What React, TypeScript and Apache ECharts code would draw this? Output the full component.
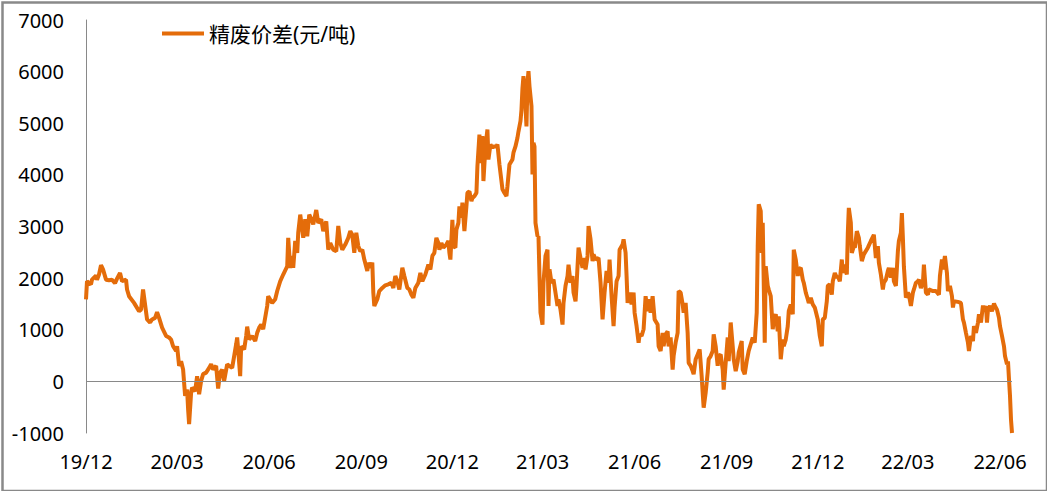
import React, { useEffect, useRef } from "react";
import * as echarts from "echarts";

// Day offsets counted from 2019-12-01, and the spread values (元/吨)
const seriesName = "精废价差(元/吨)";
const startDate = "2019-12-01";
const xTickLabels = ["19/12", "20/03", "20/06", "20/09", "20/12", "21/03", "21/06", "21/09", "21/12", "22/03", "22/06"];
const yTicks = { min: -1000, max: 7000, step: 1000 };
const lastDay = 925;

const dayOffsets = [
  0, 1, 5, 6, 10, 11, 13, 15, 17, 20, 23, 26, 29, 31, 34, 36, 40, 41, 43, 48, 53, 55, 57, 59, 61, 64, 66, 69, 71, 73, 76, 80, 83, 85, 87, 90, 91, 93, 95, 97, 99, 101, 102, 103, 105, 106, 109, 111, 113, 115, 117, 120, 123, 125, 127, 130, 132, 134, 136, 138, 141, 143, 146, 148, 150, 151, 152, 154, 155, 158, 160, 161, 163, 166, 169, 171, 173, 175, 177,
  181, 182, 186, 189, 191, 194, 197, 201, 202, 204, 206, 207, 209, 211, 212, 214, 216, 217, 219, 221, 223, 226, 227, 230, 232, 235, 237, 240, 242, 244, 247, 250, 252, 254, 256, 259, 262, 264, 266, 268, 270, 272, 274, 276, 278, 281, 282, 284, 286, 287, 288, 291, 293, 296, 299, 302, 305, 307, 309, 311, 313, 316, 318, 321, 323, 325, 327, 329, 332, 334, 336, 339, 342, 344, 346, 348, 350, 352, 353, 355, 357, 360, 362, 363, 364,
  366, 367, 369, 370, 372, 373, 375, 376, 378, 380, 381, 383, 385, 386, 388, 390, 391, 393, 394, 396, 397, 399, 401, 402, 404, 406, 407, 410, 411, 413, 415, 416, 418, 420, 421, 423, 426, 427, 429, 431, 432, 434, 435, 436, 437, 438, 440, 441, 442, 443, 445, 446, 447, 448, 449, 451, 452, 453, 454, 456, 457, 459, 461, 462, 463, 465, 467,
  471, 472, 474, 476, 477, 479, 481, 482, 484, 486, 487, 489, 490, 491, 492, 494, 496, 497, 499, 501, 502, 504, 506, 507, 509, 512, 514, 516, 518, 520, 522, 523, 525, 527, 528, 530, 532, 533, 536, 537, 539, 540, 541, 543, 545, 547, 548, 550, 552, 553, 555, 557, 559, 561, 562, 564, 566, 568, 571, 572, 574, 576, 577, 579, 581, 582, 584, 586, 587, 589, 591, 592, 594, 596, 597, 599, 601, 602, 604, 606, 607, 609, 611, 613, 615, 616, 617, 619, 621, 622, 624, 626, 627, 629, 631, 632, 634, 636, 637, 639, 641, 642, 644, 646, 647, 649, 651, 652, 655, 656, 658, 660, 662, 664, 666, 668, 670, 671, 672, 674, 675, 676, 678, 679, 681, 682, 684, 686, 687, 689, 691, 692,
  694, 696, 697, 699, 701, 702, 704, 706, 707, 709, 711, 712, 714, 716, 717, 719, 721, 722, 724, 726, 728, 731, 732, 733, 735, 736, 738, 740, 741, 743, 745, 746, 748, 750, 751, 753, 755, 756, 758, 760, 761, 762, 764, 765, 767, 768, 770, 772, 773, 775, 777, 781, 784, 787, 789, 791, 792, 794, 796, 797, 799, 801, 802, 804, 806, 807, 809, 811, 812, 814, 815, 816, 817, 819, 821, 822, 824, 826, 827, 829, 831, 832, 834, 836, 837, 839, 841, 842, 846, 849, 852, 853, 855, 856, 858, 860, 861, 863, 865, 866, 867, 871, 874, 876, 877, 879, 881, 882, 884, 886, 887, 889, 891, 892, 894, 896, 897, 899, 900, 901, 903, 905, 907, 908, 910, 912, 913, 915, 917, 918, 920, 921, 922, 923, 924, 925,
];

const spreadValues = [
  1590, 1940, 1880, 1970, 2050, 1970, 2070, 2250, 2170, 1970, 1960, 1970, 1900, 1990, 2100, 1940, 1970, 1780, 1650, 1520, 1360, 1390, 1780, 1490, 1200, 1140, 1200, 1230, 1340, 1230, 1040, 880, 850, 810, 680, 590, 680, 300, 390, 230, -280, -160, -540, -830, -220, -120, -190, 100, -250, 10, 140, 170, 260, 330, 230, 300, -140, 170, 230, 10, 330, 300, 260, 490, 720, 850, 620, 100, 680, 620, 880, 1060, 810, 880, 780, 940, 1040, 1100, 1010,
  1460, 1650, 1520, 1590, 1750, 1940, 2070, 2230, 2780, 2200, 2430, 2200, 2720, 2490, 2880, 3230, 2940, 2780, 3140, 2810, 3230, 3100, 3040, 3320, 3070, 3140, 2910, 3100, 2550, 2680, 2550, 2520, 3010, 2680, 2550, 2650, 2780, 2910, 2840, 2490, 2880, 2620, 2520, 2550, 2360, 2140, 2300, 2200, 2300, 1720, 1460, 1590, 1750, 1810, 1860, 1880, 1910, 1810, 2040, 1940, 1780, 2200, 2040, 1810, 1780, 1680, 1620, 1810, 1910, 2100, 1940, 2070, 2260, 2170, 2430, 2490, 2780, 2680, 2550, 2680, 2590, 2650, 2720, 2490, 2360,
  3130, 2620, 2590, 2940, 3070, 3390, 3170, 3460, 2910, 3390, 3650, 3680, 3490, 3550, 3590, 3650, 4170, 4780, 4230, 4750, 3880, 4550, 4880, 4300, 4590, 4520, 4550, 4550, 4590, 4200, 3880, 3720, 3650, 3590, 3780, 4200, 4300, 4430, 4550, 4720, 4840, 5040, 5260, 5680, 5910, 5720, 4940, 5780, 6010, 5720, 5330, 4010, 4620, 4550, 3070, 2810, 2810, 2040, 1330, 1100, 1910, 2430, 2550, 1460, 2170, 1910, 1970,
  1460, 1590, 1390, 1100, 1520, 1850, 2040, 2260, 1910, 2040, 1720, 1550, 1850, 2230, 2590, 2390, 2200, 2390, 2170, 2430, 3010, 2750, 2330, 2460, 2360, 2390, 1910, 1200, 1720, 2140, 1910, 2360, 1650, 1070, 1430, 1940, 2040, 2550, 2650, 2750, 2490, 2040, 1520, 1720, 1490, 1720, 1330, 1070, 750, 910, 880, 1010, 1650, 1360, 1590, 1330, 1650, 1200, 1100, 680, 590, 940, 680, 910, 970, 680, 850, 230, 490, 750, 940, 1750, 1720, 1490, 1330, 1520, 940, 360, 300, 200, 140, 430, 520, 620, 100, -220, -510, -220, 170, 430, 490, 590, 910, 680, 300, 490, 520, 230, -160, 360, 850, 390, 1140, 680, 430, 200, 390, 560, 780, 230, 140, 390, 590, 720, 850, 750, 1330, 2620, 3430, 3300, 2490, 3070, 750, 2230, 1850, 1780, 1650, 1010, 1200, 1300, 970, 1260,
  430, 810, 680, 810, 1070, 1360, 1490, 1300, 2550, 2360, 2040, 2170, 2200, 1970, 1910, 1720, 1590, 1520, 1620, 1490, 1430, 1200, 1040, 880, 680, 1200, 1230, 1550, 1850, 1880, 1680, 1940, 2100, 2010, 2040, 1940, 2360, 2100, 2260, 2070, 2880, 3360, 3070, 2490, 2620, 2590, 2910, 2780, 2620, 2330, 2460, 2590, 2720, 2840, 2390, 2620, 2300, 2070, 1780, 1910, 1970, 2140, 2200, 2010, 2200, 1940, 1850, 2520, 2720, 2880, 3260, 2780, 2230, 1620, 1720, 1680, 1460, 1720, 1780, 1910, 1940, 1970, 1810, 1910, 2260, 1720, 1680, 1780, 1750, 1750, 1680, 2040, 2360, 2170, 2430, 2100, 1750, 1850, 1650, 1430, 1550, 1540, 1520, 1200, 1140, 940, 750, 590, 880, 780, 1070, 940, 1140, 1300, 1140, 1470, 1360, 1460, 1140, 1390, 1460, 1360, 1510, 1460, 1390, 1230, 1070, 880, 680, 490, 330, 390, 40, -280, -740, -1000,
];

const FONT = "'Noto Sans', 'Noto Sans CJK SC', sans-serif";
const DAY_MS = 24 * 3600 * 1000;

function startTs(): number {
  const [y, m, d] = startDate.split("-").map(Number);
  return Date.UTC(y, m - 1, d);
}

function labelToDay(label: string): number {
  const [yy, mm] = label.split("/").map(Number);
  return Math.round((Date.UTC(2000 + yy, mm - 1, 1) - startTs()) / DAY_MS);
}

export default function App() {
  const ref = useRef<HTMLDivElement>(null);

  useEffect(() => {
    if (!ref.current) return;
    const chart = echarts.init(ref.current, null, { renderer: "svg" });
    const tickDays = xTickLabels.map(labelToDay);
    const data = dayOffsets.map((d, i) => [d, spreadValues[i]]);

    chart.setOption({
      animation: false,
      backgroundColor: "#ffffff",
      grid: { left: 86, right: 35, top: 20, bottom: 58, containLabel: false },
      legend: {
        data: [seriesName],
        left: 157,
        top: 18,
        icon: "rect",
        itemWidth: 42,
        itemHeight: 4,
        textStyle: { fontSize: 21, color: "#000", fontFamily: FONT },
      },
      xAxis: {
        type: "value",
        min: 0,
        max: lastDay,
        axisLine: { show: false, onZero: false },
        axisTick: { show: false },
        splitLine: { show: false },
        axisLabel: {
          customValues: tickDays,
          fontSize: 20,
          color: "#000",
          fontFamily: FONT,
          margin: 18,
          hideOverlap: false,
          formatter: (v: number) => {
            const i = tickDays.indexOf(Math.round(v));
            return i >= 0 ? xTickLabels[i] : "";
          },
        },
      },
      yAxis: {
        type: "value",
        min: yTicks.min,
        max: yTicks.max,
        interval: yTicks.step,
        axisLine: { show: true, onZero: false, lineStyle: { color: "#898989", width: 1 } },
        axisTick: { show: false },
        splitLine: { show: false },
        axisLabel: {
          fontSize: 20,
          color: "#000",
          fontFamily: FONT,
          margin: 22,
          formatter: (v: number) => String(v),
        },
      },
      series: [
        {
          name: seriesName,
          type: "line",
          data,
          symbol: "none",
          lineStyle: { color: "#E46C0A", width: 4 },
          itemStyle: { color: "#E46C0A" },
          markLine: {
            silent: true,
            symbol: "none",
            label: { show: false },
            lineStyle: { color: "#898989", width: 1, type: "solid" },
            data: [{ yAxis: 0 }],
          },
          z: 3,
        },
      ],
      graphic: [
        {
          type: "rect",
          left: 0,
          top: 0,
          shape: { x: 1, y: 1, width: 1044.5, height: 488.5 },
          style: { fill: "none", stroke: "#898989", lineWidth: 2.5 },
          silent: true,
        },
      ],
    });

    return () => chart.dispose();
  }, []);

  return (
    <div
      ref={ref}
      style={{ position: "absolute", left: 0, top: 0, width: 1047, height: 491 }}
    />
  );
}
